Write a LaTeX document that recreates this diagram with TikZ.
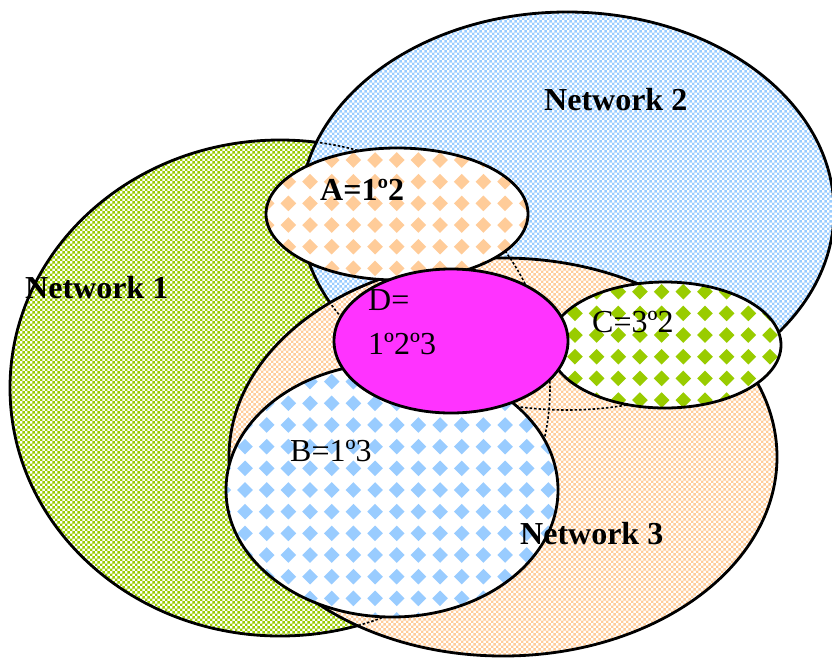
\documentclass[tikz,border=0pt]{standalone}
\usepackage{fontspec}
\setmainfont{Liberation Serif}
\usetikzlibrary{patterns.meta}
\definecolor{ngreen}{HTML}{99CC00}
\definecolor{nblue}{HTML}{99CCFF}
\definecolor{npeach}{HTML}{FFCC99}
\definecolor{dmag}{HTML}{FF33FF}
\tikzdeclarepattern{
  name=finechk,
  type=uncolored,
  bottom left={(0pt,0pt)},
  top right={(5.4pt,5.4pt)},
  tile size={(5.4pt,5.4pt)},
  code={
    \pgfpathrectangle{\pgfpointorigin}{\pgfqpoint{2.7pt}{2.7pt}}
    \pgfpathrectangle{\pgfqpoint{2.7pt}{2.7pt}}{\pgfqpoint{2.7pt}{2.7pt}}
    \pgfusepath{fill}
  }
}
\newcommand{\dmdfill}[7]{%
  \begin{scope}
    \clip (#1,#2) ellipse [x radius=#3pt, y radius=#4pt];
    \fill[white] (#1,#2) ellipse [x radius=#3pt, y radius=#4pt];
    \pgfmathtruncatemacro{\dmi}{(#1-#3-#6)/21.67-1}
    \pgfmathtruncatemacro{\dmI}{(#1+#3-#6)/21.67+1}
    \pgfmathtruncatemacro{\dmj}{(#2-#4-#7)/21.67-1}
    \pgfmathtruncatemacro{\dmJ}{(#2+#4-#7)/21.67+1}
    \foreach \i in {\dmi,...,\dmI}{
      \foreach \j in {\dmj,...,\dmJ}{
        \fill[#5] ({#6+\i*21.67},{#7+\j*21.67}) +(-7.8,0) -- +(0,-7.8) -- +(7.8,0) -- +(0,7.8) -- cycle;
      }
    }
  \end{scope}
}
\begin{document}
\begin{tikzpicture}[x=1pt,y=-1pt,
  outline/.style={draw=black,line width=2.8pt},
  hidden/.style={draw=black,line width=1.6pt,dash pattern=on 2.5pt off 2pt},
  netfill/.style={pattern={finechk}, pattern color=#1},
  lbl/.style={anchor=base west,inner sep=0pt,font=\fontsize{32}{38}\selectfont}]
\useasboundingbox (0,0) rectangle (832,657);
% Network 1
\fill[white] (280,388) ellipse [x radius=270pt, y radius=248pt];
\fill[netfill=ngreen] (280,388) ellipse [x radius=270pt, y radius=248pt];
\draw[outline] (280,388) ellipse [x radius=270pt, y radius=248pt];
% Network 2
\fill[white] (567,211) ellipse [x radius=267pt, y radius=199pt];
\fill[netfill=nblue] (567,211) ellipse [x radius=267pt, y radius=199pt];
\draw[outline] (567,211) ellipse [x radius=267pt, y radius=199pt];
% Network 3
\fill[white] (503,457) ellipse [x radius=274pt, y radius=199pt];
\fill[netfill=npeach] (503,457) ellipse [x radius=274pt, y radius=199pt];
\draw[outline] (503,457) ellipse [x radius=274pt, y radius=199pt];
% hidden outlines
\draw[hidden] (280,388) ellipse [x radius=270pt, y radius=248pt];
\draw[hidden] (567,211) ellipse [x radius=267pt, y radius=199pt];
% A
\dmdfill{397}{214}{131}{66}{npeach}{331.7}{160}
\draw[outline] (397,214) ellipse [x radius=131pt, y radius=66pt];
% B
\dmdfill{392}{490}{166}{127}{nblue}{266.7}{555}
\draw[outline] (392,490) ellipse [x radius=166pt, y radius=127pt];
% C
\dmdfill{665}{345}{116}{63}{ngreen}{618.3}{291.7}
\draw[outline] (665,345) ellipse [x radius=116pt, y radius=63pt];
% D
\fill[dmag] (451,341) ellipse [x radius=117pt, y radius=72pt];
\draw[outline] (451,341) ellipse [x radius=117pt, y radius=72pt];
% labels
\node[lbl,font=\fontsize{32}{38}\selectfont\bfseries] (l1) at (25,298) {Network 1};
\node[lbl,font=\fontsize{32}{38}\selectfont\bfseries] (l2) at (544,110) {Network 2};
\node[lbl,font=\fontsize{32}{38}\selectfont\bfseries] (l3) at (520,544) {Network 3};
\node[lbl,font=\fontsize{32}{38}\selectfont\bfseries] (la) at (320,200) {A=1º2};
\node[lbl] (lb) at (290,461) {B=1º3};
\node[lbl] (lc) at (592,332) {C=3º2};
\node[lbl] (ld1) at (368,310) {D=};
\node[lbl] (ld2) at (368,354) {1º2º3};
\end{tikzpicture}
\end{document}
